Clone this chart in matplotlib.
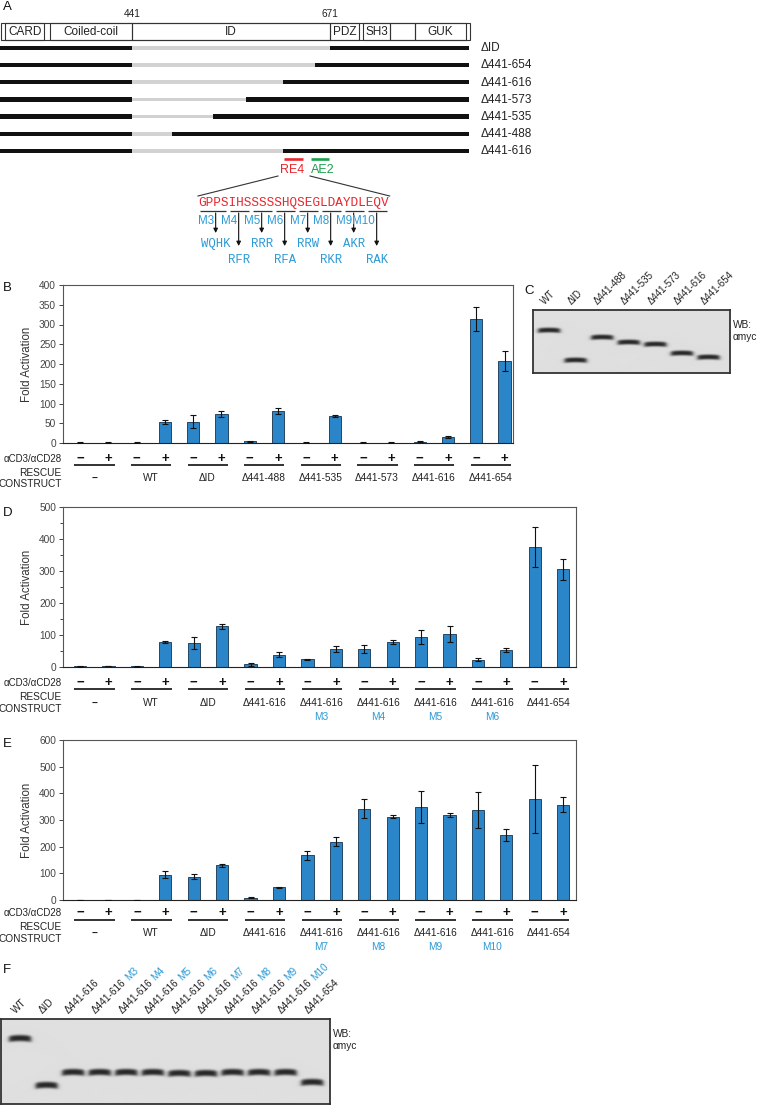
import numpy as np
import matplotlib
matplotlib.use('Agg')
import matplotlib.pyplot as plt
from matplotlib.patches import Rectangle
from matplotlib import transforms

plt.rcParams['font.family'] = ['Liberation Sans', 'DejaVu Sans']

# ------------------------------------------------------------------ data
domain_names = ['CARD', 'Coiled-coil', 'ID', 'PDZ', 'SH3', '', 'GUK']
domain_start = [294, 346, 441, 671, 709, 741, 770]
domain_end = [339, 441, 671, 705, 741, 770, 829]
map_start, map_end = 289, 834
bar_start, bar_end = 288, 832
construct_names = ['ΔID', 'Δ441-654', 'Δ441-616', 'Δ441-573', 'Δ441-535', 'Δ441-488', 'Δ441-616']
del_start = [441, 441, 441, 441, 441, 441, 441]
del_end = [671, 654, 616, 573, 535, 488, 616]
re4_range = (617, 640)
ae2_range = (649, 670)

sequence = 'GPPSIHSSSSSHQSEGLDAYDLEQV'
mut_names = ['M3', 'M4', 'M5', 'M6', 'M7', 'M8', 'M9', 'M10']
mut_groups = [(0, 3), (4, 6), (7, 9), (10, 12), (13, 15), (16, 18), (19, 21), (22, 24)]
mut_replacements = ['WQHK', 'RFR', 'RRR', 'RFA', 'RRW', 'RKR', 'AKR', 'RAK']

B_groups = ['−', 'WT', 'ΔID', 'Δ441-488', 'Δ441-535', 'Δ441-573', 'Δ441-616', 'Δ441-654']
B_muts = [''] * 8
B_unstim = [1, 1, 54, 4, 1, 1, 3, 314]
B_unstim_err = [0.3, 0.3, 16, 1, 0.3, 0.3, 1, 31]
B_stim = [1, 53, 74, 81, 68, 1, 15, 207]
B_stim_err = [0.3, 5, 8, 8, 2, 0.3, 1.5, 25]

D_groups = ['−', 'WT', 'ΔID', 'Δ441-616', 'Δ441-616', 'Δ441-616', 'Δ441-616', 'Δ441-616', 'Δ441-654']
D_muts = ['', '', '', '', 'M3', 'M4', 'M5', 'M6', '']
D_unstim = [2, 2, 75, 9, 24, 56, 94, 23, 375]
D_unstim_err = [0.5, 0.5, 19, 5, 1, 12, 22, 5, 64]
D_stim = [3, 78, 127, 38, 57, 78, 104, 54, 305]
D_stim_err = [1, 3, 8, 8, 10, 5, 25, 6, 32]

E_groups = ['−', 'WT', 'ΔID', 'Δ441-616', 'Δ441-616', 'Δ441-616', 'Δ441-616', 'Δ441-616', 'Δ441-654']
E_muts = ['', '', '', '', 'M7', 'M8', 'M9', 'M10', '']
E_unstim = [1, 1, 87, 9, 167, 342, 350, 337, 380]
E_unstim_err = [0.3, 0.3, 10, 2, 18, 35, 60, 67, 128]
E_stim = [1, 95, 130, 47, 219, 312, 320, 244, 358]
E_stim_err = [0.3, 12, 5, 2, 18, 5, 8, 23, 28]

C_lanes = ['WT', 'ΔID', 'Δ441-488', 'Δ441-535', 'Δ441-573', 'Δ441-616', 'Δ441-654']
C_band_y = [20, 50, 27, 32, 34, 43, 47]

F_lanes = ['WT', 'ΔID', 'Δ441-616', 'Δ441-616', 'Δ441-616', 'Δ441-616', 'Δ441-616',
           'Δ441-616', 'Δ441-616', 'Δ441-616', 'Δ441-616', 'Δ441-654']
F_lane_muts = ['', '', '', 'M3', 'M4', 'M5', 'M6', 'M7', 'M8', 'M9', 'M10', '']
F_band_y = [19, 66, 53, 53, 53, 53, 54, 54, 53, 53, 53, 63]

# ------------------------------------------------------------------ style
BLUE = '#2b86c9'
MBLUE = '#2b9ad6'
RED = '#e8262d'
GREEN = '#1aa04a'

W, H = 758, 1105
fig = plt.figure(figsize=(W / 100, H / 100), dpi=100)


def rect(x, y, w, h):
    return [x / W, 1 - (y + h) / H, w / W, h / H]


# overlay in pixel coordinates for free annotations
ov = fig.add_axes([0, 0, 1, 1], zorder=5)
ov.set_xlim(0, W)
ov.set_ylim(H, 0)
ov.axis('off')
ov.patch.set_alpha(0)

# ------------------------------------------------------------------ panel A (map)
axA = fig.add_axes(rect(0, 0, W, 180))
axA.set_xlim(287.7, 1168.1)
axA.set_ylim(180, 0)
axA.axis('off')

box_y, box_h = 22.5, 17.5
axA.add_patch(Rectangle((map_start, box_y), map_end - map_start, box_h,
                        fill=False, ec='#333', lw=0.8))
for name, s, e in zip(domain_names, domain_start, domain_end):
    axA.add_patch(Rectangle((s, box_y), e - s, box_h, fill=False, ec='#333', lw=0.8))
    if name:
        axA.text((s + e) / 2, box_y + box_h / 2 + 0.5, name, ha='center', va='center',
                 fontsize=8.5, color='#222')
axA.text(441, 14, '441', ha='center', va='center', fontsize=7.3, color='#222')
axA.text(671, 14, '671', ha='center', va='center', fontsize=7.3, color='#222')

for i, (nm, ds, de) in enumerate(zip(construct_names, del_start, del_end)):
    y = 47.8 + 17.2 * i
    axA.barh(y, ds - bar_start, left=bar_start, height=4.4, color='#111', lw=0)
    axA.barh(y, de - ds, left=ds, height=3.6, color='#d2d2d2', lw=0)
    axA.barh(y, bar_end - de, left=de, height=4.4, color='#111', lw=0)
    axA.text(bar_end + 14, y + 0.5, nm, ha='left', va='center', fontsize=8.5, color='#222')

axA.plot(re4_range, [159, 159], color=RED, lw=1.9, solid_capstyle='butt')
axA.plot(ae2_range, [159, 159], color=GREEN, lw=1.9, solid_capstyle='butt')
axA.text(np.mean(re4_range) - 1, 170, 'RE4', ha='center', va='center', fontsize=9, color=RED)
axA.text(np.mean(ae2_range) + 3, 170, 'AE2', ha='center', va='center', fontsize=9, color=GREEN)

# sequence and mutants (pixel overlay)
seq_x0, seq_y = 198, 203
fs_mono = 9.2
pitch = 0.6 * fs_mono * 100 / 72
ov.text(seq_x0, seq_y, sequence, fontfamily=['Liberation Mono', 'DejaVu Sans Mono'],
        fontsize=fs_mono, color=RED, ha='left', va='center')
seq_x1 = seq_x0 + pitch * len(sequence)
ov.plot([278, seq_x0], [176, 196], color='#333', lw=0.8)
ov.plot([310, seq_x1], [176, 196], color='#333', lw=0.8)

for k, ((i0, i1), mname, rep) in enumerate(zip(mut_groups, mut_names, mut_replacements)):
    gx0 = seq_x0 + pitch * i0 + 1.5
    gx1 = seq_x0 + pitch * (i1 + 1) - 2.5
    ov.plot([gx0, gx1], [211, 211], color='#333', lw=0.9, solid_capstyle='butt')
    ax_x = gx1 - 10.5
    ov.text(ax_x - 1.5, 221.5, mname, ha='right', va='center', fontsize=8.4, color=MBLUE)
    tip = 233 if k % 2 == 0 else 246
    ov.annotate('', xy=(ax_x, tip), xytext=(ax_x, 213),
                arrowprops=dict(arrowstyle='-|>', color='#111', lw=0.8,
                                mutation_scale=6.5, shrinkA=0, shrinkB=0))
    ry = 244 if k % 2 == 0 else 260
    ov.text(ax_x, ry, rep, ha='center', va='center',
            fontfamily=['Liberation Mono', 'DejaVu Sans Mono'], fontsize=8.8, color=MBLUE)


# ------------------------------------------------------------------ bar panels
def bar_panel(rect_px, groups, muts, unstim, unstim_err, stim, stim_err,
              ymax, major, minor, right_pad, offs):
    x0, y0, w, h = rect_px
    ax = fig.add_axes(rect(*rect_px))
    n = len(groups)
    x = np.arange(2 * n)
    vals = np.ravel(np.column_stack([unstim, stim]))
    errs = np.ravel(np.column_stack([unstim_err, stim_err]))
    ax.bar(x, vals, width=0.43, color=BLUE, edgecolor='#16324d', linewidth=0.6, zorder=2)
    ax.errorbar(x, vals, yerr=errs, fmt='none', ecolor='#111', elinewidth=0.8,
                capsize=2.4, capthick=0.8, zorder=3)
    ax.set_xlim(-0.6, 2 * n - 1 + right_pad)
    ax.set_ylim(0, ymax)
    ax.set_yticks(np.arange(0, ymax + 1, major))
    if minor:
        ax.set_yticks(np.arange(minor, ymax, major), minor=True)
    ax.set_xticks([])
    for s in ax.spines.values():
        s.set_color('#555')
        s.set_linewidth(0.8)
    ax.spines['bottom'].set_color('#222')
    ax.tick_params(axis='y', which='both', length=3, width=0.7, labelsize=7.3,
                   colors='#444', pad=2)
    ax.tick_params(axis='y', which='minor', length=2.5)
    ax.text((27 - 63) / w, 0.5, 'Fold Activation', transform=ax.transAxes, rotation=90,
            ha='center', va='center', fontsize=8.3, color='#333')

    sign_off, line_off, lab_off, mut_off, res_off, con_off = offs
    tr = ax.get_xaxis_transform()
    for g in range(n):
        ax.text(2 * g, -sign_off / h, '−', transform=tr, ha='center', va='center',
                fontsize=9.5, fontweight='bold', color='#111', clip_on=False)
        ax.text(2 * g + 1, -sign_off / h, '+', transform=tr, ha='center', va='center',
                fontsize=9.5, fontweight='bold', color='#111', clip_on=False)
        ax.plot([2 * g - 0.2, 2 * g + 1.22], [-line_off / h] * 2, transform=tr,
                color='#222', lw=1.3, clip_on=False, solid_capstyle='butt')
        ax.text(2 * g + 0.5, -lab_off / h, groups[g], transform=tr, ha='center', va='center',
                fontsize=7.3, color='#222', clip_on=False,
                fontweight='bold' if groups[g] == '−' else 'normal')
        if muts[g]:
            ax.text(2 * g + 0.5, -mut_off / h, muts[g], transform=tr, ha='center',
                    va='center', fontsize=7.3, color=MBLUE, clip_on=False)
    ax.text(-1.5 / w, -sign_off / h, 'αCD3/αCD28', transform=ax.transAxes, ha='right',
            va='center', fontsize=7.0, color='#222', clip_on=False)
    ax.text(-1.5 / w, -res_off / h, 'RESCUE', transform=ax.transAxes, ha='right',
            va='center', fontsize=7.3, color='#222', clip_on=False)
    ax.text(-1.5 / w, -con_off / h, 'CONSTRUCT', transform=ax.transAxes, ha='right',
            va='center', fontsize=7.3, color='#222', clip_on=False)
    return ax


bar_panel((63, 285, 450, 158), B_groups, B_muts, B_unstim, B_unstim_err, B_stim, B_stim_err,
          400, 50, None, 0.3, (16, 21.5, 35, 49, 30, 41))
bar_panel((63, 507, 513, 160), D_groups, D_muts, D_unstim, D_unstim_err, D_stim, D_stim_err,
          500, 100, 50, 0.45, (16, 22, 36, 50, 30, 42))
bar_panel((63, 740, 513, 160), E_groups, E_muts, E_unstim, E_unstim_err, E_stim, E_stim_err,
          600, 100, None, 0.45, (13, 20, 33, 47, 27, 38.5))


# ------------------------------------------------------------------ blots
def blot(rect_px, xlim, lane_names, lane_muts, band_y, thick, smile, label_fs):
    x0, y0, w, h = rect_px
    ax = fig.add_axes(rect(*rect_px))
    ax.set_xlim(*xlim)
    nx, ny = 700, 260
    X = np.linspace(xlim[0], xlim[1], nx)
    Y = np.linspace(0, h, ny)
    XX, YY = np.meshgrid(X, Y)
    img = np.full_like(XX, 0.875)
    hw = 0.41
    for i, by in enumerate(band_y):
        u = (XX - i) / hw
        hx = 1 / (1 + np.exp((np.abs(XX - i) - hw) / 0.045))
        vy = np.exp(-0.5 * (np.abs(YY - by - smile * u ** 2) / thick) ** 3)
        img -= 0.72 * hx * vy
    ax.imshow(np.clip(img, 0, 1), cmap='gray', vmin=0, vmax=1,
              extent=(xlim[0], xlim[1], h, 0), aspect='auto', interpolation='bilinear')
    ax.set_xlim(*xlim)
    ax.set_ylim(h, 0)
    ax.set_xticks([])
    ax.set_yticks([])
    for s in ax.spines.values():
        s.set_color('#333')
        s.set_linewidth(1.3)
    tr = ax.get_xaxis_transform()
    renderer = fig.canvas.get_renderer()
    for i, (nm, mu) in enumerate(zip(lane_names, lane_muts)):
        ax.text(i - 0.15, 1 + 5 / h, nm, transform=tr, rotation=45,
                rotation_mode='anchor', ha='left', va='baseline',
                fontsize=label_fs, color='#222', clip_on=False)
        if mu:
            tmp = fig.text(0, 0, nm, fontsize=label_fs)
            wpx = tmp.get_window_extent(renderer).width + 0.3 * label_fs * 100 / 72
            tmp.remove()
            d = wpx / np.sqrt(2)
            otr = transforms.offset_copy(tr, fig=fig, x=d, y=d, units='dots')
            ax.text(i - 0.15, 1 + 5 / h, mu, transform=otr, rotation=45,
                    rotation_mode='anchor', ha='left', va='baseline',
                    fontsize=label_fs, color=MBLUE, clip_on=False)
    ov.text(x0 + w + 3, y0 + 15, 'WB:', ha='left', va='center', fontsize=7.3, color='#222')
    ov.text(x0 + w + 3, y0 + 27, 'αmyc', ha='left', va='center', fontsize=7.3, color='#222')
    return ax


blot((533, 310, 197, 63), (-0.6, 6.8), C_lanes, [''] * 7, C_band_y, 2.0, 0.6, 7.0)
blot((1, 1019, 329, 85), (-0.71, 11.66), F_lanes, F_lane_muts, F_band_y, 2.6, 0.9, 7.2)

# ------------------------------------------------------------------ panel letters
for letter, (lx, ly) in zip('ABCDEF', [(3, 7), (3, 288), (524, 291), (3, 513), (3, 744), (3, 970)]):
    ov.text(lx, ly, letter, ha='left', va='center', fontsize=9.5, color='#111')

fig.savefig('out.png', dpi=100)
